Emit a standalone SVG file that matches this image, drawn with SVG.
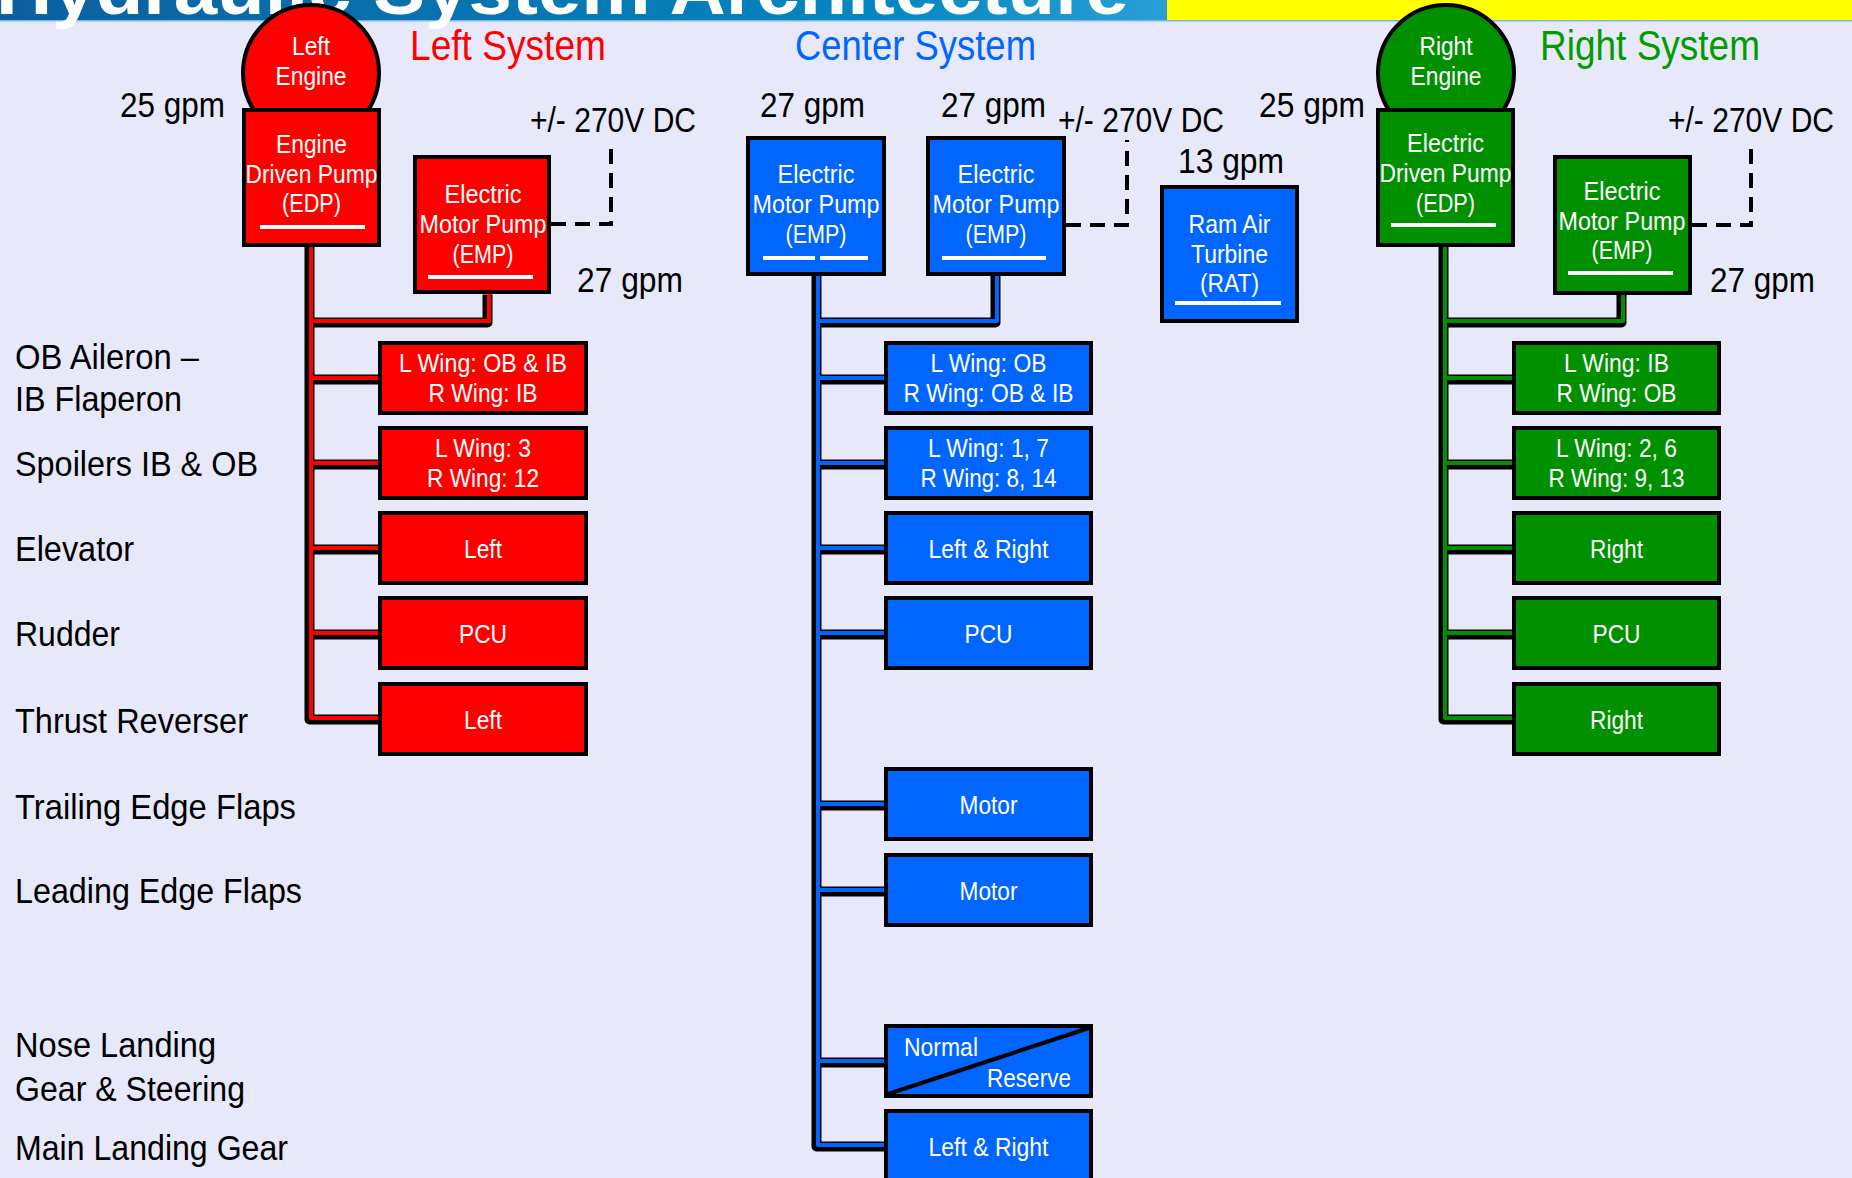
<svg xmlns="http://www.w3.org/2000/svg" width="1852" height="1178" viewBox="0 0 1852 1178">
<defs>
<linearGradient id="bannerGrad" x1="0" y1="0" x2="1" y2="0">
<stop offset="0" stop-color="#0c5f9f"/>
<stop offset="0.75" stop-color="#0586c0"/>
<stop offset="1" stop-color="#2a9fd6"/>
</linearGradient>
</defs>
<style>
text { font-family: "Liberation Sans", Arial, sans-serif; }
.w { fill: #ffffff; font-size: 25px; text-anchor: middle; }
.box { stroke: #000000; stroke-width: 4; }
.red { fill: #ff0000; }
.blue { fill: #0066ff; }
.green { fill: #009000; }
.ul { stroke: #ffffff; stroke-width: 4; fill: none; }
.lbl { font-size: 35px; fill: #000000; }
.gpm { font-size: 35px; fill: #000000; }
.sys { font-size: 42px; }
.pipeo { fill: none; stroke: #000000; stroke-width: 10; stroke-linejoin: round; }
.pr { fill: none; stroke: #ff0000; stroke-width: 4; stroke-linejoin: round; }
.pb { fill: none; stroke: #0066ff; stroke-width: 4; stroke-linejoin: round; }
.pg { fill: none; stroke: #009000; stroke-width: 4; stroke-linejoin: round; }
.dash { fill: none; stroke: #000000; stroke-width: 4; stroke-dasharray: 15 9; }
</style>
<rect x="0" y="0" width="1852" height="1178" fill="#e8e8fb"/>

<g id="banner">
<rect x="0" y="0" width="1167" height="20" fill="url(#bannerGrad)"/>
<rect x="1167" y="0" width="685" height="20" fill="#ffff00"/>
<rect x="0" y="20" width="1852" height="1.5" fill="#7ab8e6"/>
<text x="-4" y="14" font-size="72" font-weight="bold" fill="#ffffff" textLength="1133" lengthAdjust="spacingAndGlyphs">Hydraulic System Architecture</text>
</g>

<g id="labels">
<text class="lbl" x="15" y="369" textLength="184" lengthAdjust="spacingAndGlyphs">OB Aileron –</text>
<text class="lbl" x="15" y="411" textLength="167" lengthAdjust="spacingAndGlyphs">IB Flaperon</text>
<text class="lbl" x="15" y="476" textLength="243" lengthAdjust="spacingAndGlyphs">Spoilers IB &amp; OB</text>
<text class="lbl" x="15" y="561" textLength="119" lengthAdjust="spacingAndGlyphs">Elevator</text>
<text class="lbl" x="15" y="646" textLength="105" lengthAdjust="spacingAndGlyphs">Rudder</text>
<text class="lbl" x="15" y="733" textLength="233" lengthAdjust="spacingAndGlyphs">Thrust Reverser</text>
<text class="lbl" x="15" y="819" textLength="281" lengthAdjust="spacingAndGlyphs">Trailing Edge Flaps</text>
<text class="lbl" x="15" y="903" textLength="287" lengthAdjust="spacingAndGlyphs">Leading Edge Flaps</text>
<text class="lbl" x="15" y="1057" textLength="201" lengthAdjust="spacingAndGlyphs">Nose Landing</text>
<text class="lbl" x="15" y="1101" textLength="230" lengthAdjust="spacingAndGlyphs">Gear &amp; Steering</text>
<text class="lbl" x="15" y="1160" textLength="273" lengthAdjust="spacingAndGlyphs">Main Landing Gear</text>
</g>

<g id="annotations">
<text class="sys" x="410" y="60" fill="#ff0000" textLength="196" lengthAdjust="spacingAndGlyphs">Left System</text>
<text class="sys" x="795" y="60" fill="#0066ff" textLength="241" lengthAdjust="spacingAndGlyphs">Center System</text>
<text class="sys" x="1540" y="60" fill="#009c00" textLength="220" lengthAdjust="spacingAndGlyphs">Right System</text>
<text class="gpm" x="120" y="117" textLength="105" lengthAdjust="spacingAndGlyphs">25 gpm</text>
<text class="gpm" x="577" y="292" textLength="106" lengthAdjust="spacingAndGlyphs">27 gpm</text>
<text class="gpm" x="760" y="117" textLength="105" lengthAdjust="spacingAndGlyphs">27 gpm</text>
<text class="gpm" x="941" y="117" textLength="105" lengthAdjust="spacingAndGlyphs">27 gpm</text>
<text class="gpm" x="1259" y="117" textLength="106" lengthAdjust="spacingAndGlyphs">25 gpm</text>
<text class="gpm" x="1178" y="173" textLength="106" lengthAdjust="spacingAndGlyphs">13 gpm</text>
<text class="gpm" x="1710" y="292" textLength="105" lengthAdjust="spacingAndGlyphs">27 gpm</text>
<text class="gpm" x="530" y="132" textLength="166" lengthAdjust="spacingAndGlyphs">+/- 270V DC</text>
<text class="gpm" x="1058" y="132" textLength="166" lengthAdjust="spacingAndGlyphs">+/- 270V DC</text>
<text class="gpm" x="1668" y="132" textLength="166" lengthAdjust="spacingAndGlyphs">+/- 270V DC</text>
</g>

<g id="connectors">
<g transform="translate(-1.5,1.5)">
<path class="pipeo" d="M311,245 V718 H382 M311,378 H382 M311,463 H382 M311,548 H382 M311,633 H382 M489,293 V321 H311"/>
<path class="pipeo" d="M818,274 V1145 H888 M818,378 H888 M818,463 H888 M818,548 H888 M818,633 H888 M818,804 H888 M818,890 H888 M818,1061 H888 M997,274 V321 H818"/>
<path class="pipeo" d="M1445,245 V718 H1516 M1445,378 H1516 M1445,463 H1516 M1445,548 H1516 M1445,633 H1516 M1623,293 V321 H1445"/>
</g>
<path class="pr" d="M311,245 V718 H382 M311,378 H382 M311,463 H382 M311,548 H382 M311,633 H382 M489,293 V321 H311"/>
<path class="pb" d="M818,274 V1145 H888 M818,378 H888 M818,463 H888 M818,548 H888 M818,633 H888 M818,804 H888 M818,890 H888 M818,1061 H888 M997,274 V321 H818"/>
<path class="pg" d="M1445,245 V718 H1516 M1445,378 H1516 M1445,463 H1516 M1445,548 H1516 M1445,633 H1516 M1623,293 V321 H1445"/>
<path class="dash" d="M551,224 H611 V140"/>
<path class="dash" d="M1066,225 H1127 V140"/>
<path class="dash" d="M1692,225 H1751 V140"/>
</g>

<g id="left-engine">
<circle class="box red" cx="311" cy="73" r="68"/>
<text class="w" x="311" y="55" textLength="38" lengthAdjust="spacingAndGlyphs">Left</text>
<text class="w" x="311" y="85" textLength="71" lengthAdjust="spacingAndGlyphs">Engine</text>
</g>
<g id="left-edp">
<rect class="box red" x="244" y="110" width="135" height="135"/>
<text class="w" x="311.5" y="153" textLength="71" lengthAdjust="spacingAndGlyphs">Engine</text>
<text class="w" x="311.5" y="183" textLength="132" lengthAdjust="spacingAndGlyphs">Driven Pump</text>
<text class="w" x="311.5" y="212" textLength="59" lengthAdjust="spacingAndGlyphs">(EDP)</text>
<line class="ul" x1="260" y1="227" x2="365" y2="227"/>
</g>
<g id="left-emp">
<rect class="box red" x="415" y="157" width="134" height="135"/>
<text class="w" x="483" y="203" textLength="77" lengthAdjust="spacingAndGlyphs">Electric</text>
<text class="w" x="483" y="233" textLength="127" lengthAdjust="spacingAndGlyphs">Motor Pump</text>
<text class="w" x="483" y="263" textLength="61" lengthAdjust="spacingAndGlyphs">(EMP)</text>
<line class="ul" x1="428" y1="277" x2="533" y2="277"/>
</g>

<g id="left-aileron">
<rect class="box red" x="380" y="343" width="206" height="70"/>
<text class="w" x="483" y="372" textLength="168" lengthAdjust="spacingAndGlyphs">L Wing: OB &amp; IB</text>
<text class="w" x="483" y="402" textLength="109" lengthAdjust="spacingAndGlyphs">R Wing: IB</text>
</g>
<g id="left-spoilers">
<rect class="box red" x="380" y="428" width="206" height="70"/>
<text class="w" x="483" y="457" textLength="96" lengthAdjust="spacingAndGlyphs">L Wing: 3</text>
<text class="w" x="483" y="487" textLength="112" lengthAdjust="spacingAndGlyphs">R Wing: 12</text>
</g>
<g id="left-elevator">
<rect class="box red" x="380" y="513" width="206" height="70"/>
<text class="w" x="483" y="558" textLength="38" lengthAdjust="spacingAndGlyphs">Left</text>
</g>
<g id="left-rudder">
<rect class="box red" x="380" y="598" width="206" height="70"/>
<text class="w" x="483" y="643" textLength="48" lengthAdjust="spacingAndGlyphs">PCU</text>
</g>
<g id="left-thrust">
<rect class="box red" x="380" y="684" width="206" height="70"/>
<text class="w" x="483" y="729" textLength="38" lengthAdjust="spacingAndGlyphs">Left</text>
</g>

<g id="center-emp1">
<rect class="box blue" x="748" y="138" width="136" height="136"/>
<text class="w" x="816" y="183" textLength="77" lengthAdjust="spacingAndGlyphs">Electric</text>
<text class="w" x="816" y="213" textLength="127" lengthAdjust="spacingAndGlyphs">Motor Pump</text>
<text class="w" x="816" y="243" textLength="61" lengthAdjust="spacingAndGlyphs">(EMP)</text>
<line class="ul" x1="763" y1="258" x2="815" y2="258"/>
<line class="ul" x1="820" y1="258" x2="868" y2="258"/>
</g>
<g id="center-emp2">
<rect class="box blue" x="928" y="138" width="136" height="136"/>
<text class="w" x="996" y="183" textLength="77" lengthAdjust="spacingAndGlyphs">Electric</text>
<text class="w" x="996" y="213" textLength="127" lengthAdjust="spacingAndGlyphs">Motor Pump</text>
<text class="w" x="996" y="243" textLength="61" lengthAdjust="spacingAndGlyphs">(EMP)</text>
<line class="ul" x1="942" y1="258" x2="1046" y2="258"/>
</g>
<g id="center-rat">
<rect class="box blue" x="1162" y="187" width="135" height="134"/>
<text class="w" x="1229.5" y="233" textLength="82" lengthAdjust="spacingAndGlyphs">Ram Air</text>
<text class="w" x="1229.5" y="263" textLength="77" lengthAdjust="spacingAndGlyphs">Turbine</text>
<text class="w" x="1229.5" y="292" textLength="59" lengthAdjust="spacingAndGlyphs">(RAT)</text>
<line class="ul" x1="1175" y1="303" x2="1281" y2="303"/>
</g>

<g id="center-aileron">
<rect class="box blue" x="886" y="343" width="205" height="70"/>
<text class="w" x="988.5" y="372" textLength="116" lengthAdjust="spacingAndGlyphs">L Wing: OB</text>
<text class="w" x="988.5" y="402" textLength="170" lengthAdjust="spacingAndGlyphs">R Wing: OB &amp; IB</text>
</g>
<g id="center-spoilers">
<rect class="box blue" x="886" y="428" width="205" height="70"/>
<text class="w" x="988.5" y="457" textLength="121" lengthAdjust="spacingAndGlyphs">L Wing: 1, 7</text>
<text class="w" x="988.5" y="487" textLength="136" lengthAdjust="spacingAndGlyphs">R Wing: 8, 14</text>
</g>
<g id="center-elevator">
<rect class="box blue" x="886" y="513" width="205" height="70"/>
<text class="w" x="988.5" y="558" textLength="120" lengthAdjust="spacingAndGlyphs">Left &amp; Right</text>
</g>
<g id="center-rudder">
<rect class="box blue" x="886" y="598" width="205" height="70"/>
<text class="w" x="988.5" y="643" textLength="48" lengthAdjust="spacingAndGlyphs">PCU</text>
</g>
<g id="center-te-flaps">
<rect class="box blue" x="886" y="769" width="205" height="70"/>
<text class="w" x="988.5" y="814" textLength="58" lengthAdjust="spacingAndGlyphs">Motor</text>
</g>
<g id="center-le-flaps">
<rect class="box blue" x="886" y="855" width="205" height="70"/>
<text class="w" x="988.5" y="900" textLength="58" lengthAdjust="spacingAndGlyphs">Motor</text>
</g>
<g id="center-nose-gear">
<rect class="box blue" x="886" y="1026" width="205" height="70"/>
<line x1="888" y1="1094" x2="1089" y2="1028" stroke="#000000" stroke-width="4"/>
<text x="904" y="1056" fill="#ffffff" font-size="25" textLength="74" lengthAdjust="spacingAndGlyphs">Normal</text>
<text x="1071" y="1087" fill="#ffffff" font-size="25" text-anchor="end" textLength="84" lengthAdjust="spacingAndGlyphs">Reserve</text>
</g>
<g id="center-main-gear">
<rect class="box blue" x="886" y="1111" width="205" height="75"/>
<text class="w" x="988.5" y="1156" textLength="120" lengthAdjust="spacingAndGlyphs">Left &amp; Right</text>
</g>

<g id="right-engine">
<circle class="box green" cx="1446" cy="73" r="68"/>
<text class="w" x="1446" y="55" textLength="53" lengthAdjust="spacingAndGlyphs">Right</text>
<text class="w" x="1446" y="85" textLength="71" lengthAdjust="spacingAndGlyphs">Engine</text>
</g>
<g id="right-edp">
<rect class="box green" x="1378" y="110" width="135" height="135"/>
<text class="w" x="1445.5" y="152" textLength="77" lengthAdjust="spacingAndGlyphs">Electric</text>
<text class="w" x="1445.5" y="182" textLength="132" lengthAdjust="spacingAndGlyphs">Driven Pump</text>
<text class="w" x="1445.5" y="212" textLength="59" lengthAdjust="spacingAndGlyphs">(EDP)</text>
<line class="ul" x1="1391" y1="225" x2="1496" y2="225"/>
</g>
<g id="right-emp">
<rect class="box green" x="1555" y="157" width="135" height="136"/>
<text class="w" x="1622" y="200" textLength="77" lengthAdjust="spacingAndGlyphs">Electric</text>
<text class="w" x="1622" y="230" textLength="127" lengthAdjust="spacingAndGlyphs">Motor Pump</text>
<text class="w" x="1622" y="259" textLength="61" lengthAdjust="spacingAndGlyphs">(EMP)</text>
<line class="ul" x1="1568" y1="273" x2="1673" y2="273"/>
</g>

<g id="right-aileron">
<rect class="box green" x="1514" y="343" width="205" height="70"/>
<text class="w" x="1616.5" y="372" textLength="105" lengthAdjust="spacingAndGlyphs">L Wing: IB</text>
<text class="w" x="1616.5" y="402" textLength="120" lengthAdjust="spacingAndGlyphs">R Wing: OB</text>
</g>
<g id="right-spoilers">
<rect class="box green" x="1514" y="428" width="205" height="70"/>
<text class="w" x="1616.5" y="457" textLength="121" lengthAdjust="spacingAndGlyphs">L Wing: 2, 6</text>
<text class="w" x="1616.5" y="487" textLength="136" lengthAdjust="spacingAndGlyphs">R Wing: 9, 13</text>
</g>
<g id="right-elevator">
<rect class="box green" x="1514" y="513" width="205" height="70"/>
<text class="w" x="1616.5" y="558" textLength="53" lengthAdjust="spacingAndGlyphs">Right</text>
</g>
<g id="right-rudder">
<rect class="box green" x="1514" y="598" width="205" height="70"/>
<text class="w" x="1616.5" y="643" textLength="48" lengthAdjust="spacingAndGlyphs">PCU</text>
</g>
<g id="right-thrust">
<rect class="box green" x="1514" y="684" width="205" height="70"/>
<text class="w" x="1616.5" y="729" textLength="53" lengthAdjust="spacingAndGlyphs">Right</text>
</g>
</svg>
